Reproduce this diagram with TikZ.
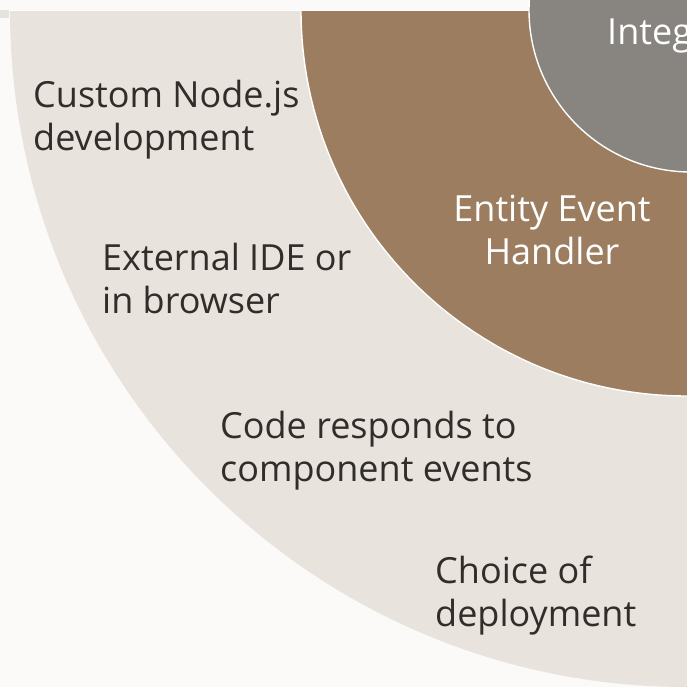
\documentclass[tikz,border=0pt]{standalone}
\usepackage{fontspec}
\setmainfont{Open Sans}
\definecolor{bgpaper}{HTML}{FBFAF8}
\definecolor{ringouter}{HTML}{E8E3DD}
\definecolor{ringmid}{HTML}{9C7D5F}
\definecolor{ringinner}{HTML}{888480}
\definecolor{txtdark}{HTML}{312D2A}
\definecolor{cornerbox}{HTML}{E6E2DD}
\begin{document}
\begin{tikzpicture}[x=1pt,y=-1pt,
  lbl/.style={font=\fontsize{36}{43}\selectfont, text=txtdark, inner sep=0pt, align=left, anchor=base west},
  lblw/.style={font=\fontsize{36}{43}\selectfont, text=white, inner sep=0pt, align=center, anchor=base},
  ringedge/.style={draw=white, line width=1.4pt}]
\useasboundingbox (0,0) rectangle (687,687);
\fill[bgpaper] (0,0) rectangle (687,687);
\begin{scope}
  \clip (0,10) rectangle (687,687);
  \fill[ringouter] (687,10) circle[radius=677];
  \fill[ringmid, ringedge] (687,10) circle[radius=386];
\end{scope}
\fill[bgpaper] (0,0) rectangle (687,10);
\draw[white, line width=0.8pt] (0,10) -- (687,10);
\fill[cornerbox] (0,10) rectangle (9,18);
\fill[ringinner, ringedge] (691,10) circle[radius=162];
% labels (base anchor = baseline of the last line)
\node[lbl] (custom) at (33,150) {Custom Node.js\\development};
\node[lbl] (ide) at (102,313) {External IDE or\\in browser};
\node[lbl] (code) at (220,481) {Code responds to\\component events};
\node[lbl] (choice) at (435,626) {Choice of\\deployment};
\node[lblw] (entity) at (552,264) {Entity Event\\Handler};
\node[font=\fontsize{36}{43}\selectfont, text=white, inner sep=0pt, anchor=base west] (integ) at (607,45) {Integration};
\end{tikzpicture}
\end{document}
